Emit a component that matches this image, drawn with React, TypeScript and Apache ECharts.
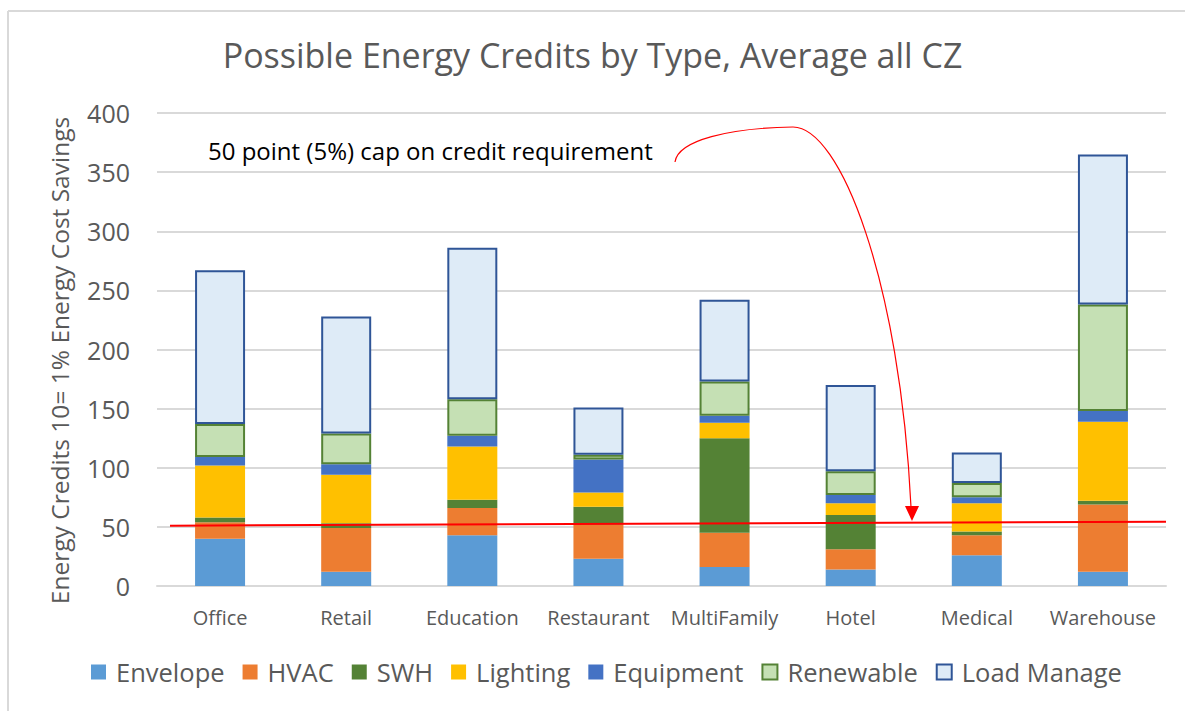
import React, { useEffect, useRef } from "react";
import * as echarts from "echarts";

const categories = ["Office", "Retail", "Education", "Restaurant", "MultiFamily", "Hotel", "Medical", "Warehouse"];
const envelope = [40, 12, 43, 23, 16, 14, 26, 12];
const hvac = [14, 37, 23, 29, 29, 17, 17, 57];
const swh = [4, 4, 7, 15, 80, 29, 3, 3];
const lighting = [44, 41, 45, 12, 13, 10, 24, 67];
const equipment = [7, 9, 9, 28, 6, 7, 5, 9];
const renewable = [28, 26, 31, 4, 29, 20, 12, 90];
const loadManage = [130, 99, 128, 40, 69, 73, 26, 127];
const yTicks = { min: 0, max: 400, interval: 50 };

const FONT = "Open Sans";
const GRAY = "#595959";

export default function App() {
  const ref = useRef<HTMLDivElement>(null);
  useEffect(() => {
    if (!ref.current) return;
    const chart = echarts.init(ref.current, null, { renderer: "svg" });
    const mk = (name: string, data: number[], style: any) => ({
      name,
      type: "bar",
      stack: "total",
      barWidth: 50,
      data,
      itemStyle: style,
      emphasis: { disabled: true },
    });
    chart.setOption({
      animation: false,
      backgroundColor: "#ffffff",
      textStyle: { fontFamily: FONT },
      title: {
        text: "Possible Energy Credits by Type, Average all CZ",
        left: "center",
        top: 33,
        textStyle: { fontFamily: FONT, fontSize: 34, fontWeight: "normal", color: GRAY },
      },
      legend: {
        left: 86,
        top: 654,
        itemWidth: 15,
        itemHeight: 15,
        itemGap: 18,
        icon: "rect",
        textStyle: { fontFamily: FONT, fontSize: 25.5, color: GRAY, padding: [0, 0, 0, 5] },
        data: ["Envelope", "HVAC", "SWH", "Lighting", "Equipment", "Renewable", "Load Manage"],
      },
      grid: { left: 157, right: 19, top: 113, bottom: 125 },
      xAxis: {
        type: "category",
        data: categories,
        axisLine: { lineStyle: { color: "#D9D9D9", width: 2 } },
        axisTick: { show: false },
        axisLabel: { fontFamily: FONT, fontSize: 20, color: GRAY, margin: 21, interval: 0 },
      },
      yAxis: {
        type: "value",
        min: yTicks.min,
        max: yTicks.max,
        interval: yTicks.interval,
        name: "Energy Credits 10= 1% Energy Cost Savings",
        nameLocation: "middle",
        nameGap: 85,
        nameTextStyle: { fontFamily: FONT, fontSize: 24.5, color: GRAY, padding: [0, 22, 0, 0] },
        axisLine: { show: false },
        axisTick: { show: false },
        axisLabel: { fontFamily: FONT, fontSize: 25, color: GRAY, margin: 27 },
        splitLine: { lineStyle: { color: "#D9D9D9", width: 2 } },
      },
      series: [
        mk("Envelope", envelope, { color: "#5B9BD5" }),
        mk("HVAC", hvac, { color: "#ED7D31" }),
        mk("SWH", swh, { color: "#548235" }),
        mk("Lighting", lighting, { color: "#FFC000" }),
        mk("Equipment", equipment, { color: "#4472C4" }),
        mk("Renewable", renewable, { color: "#C5E0B4", borderColor: "#548235", borderWidth: 2 }),
        mk("Load Manage", loadManage, { color: "#DEEBF7", borderColor: "#2F5597", borderWidth: 2 }),
      ],
      graphic: [
        { type: "line", shape: { x1: 8, y1: 11, x2: 1185, y2: 11 }, style: { stroke: "#D9D9D9", lineWidth: 2 }, silent: true },
        { type: "line", shape: { x1: 8, y1: 11, x2: 8, y2: 711 }, style: { stroke: "#D9D9D9", lineWidth: 2 }, silent: true },
        {
          type: "text",
          left: 208,
          top: 138,
          style: { text: "50 point (5%) cap on credit requirement", fontFamily: FONT, fontSize: 24, fill: "#000000" },
          z: 10,
        },
        { type: "line", shape: { x1: 170, y1: 525.7, x2: 1166, y2: 521.7 }, style: { stroke: "#FF0000", lineWidth: 2 }, z: 20, silent: true },
        {
          type: "bezierCurve",
          shape: { x1: 675, y1: 162, cpx1: 678, cpy1: 140, cpx2: 730, cpy2: 128, x2: 793, y2: 127 },
          style: { stroke: "#FF0000", lineWidth: 1.2, fill: "none" },
          z: 20,
          silent: true,
        },
        {
          type: "bezierCurve",
          shape: { x1: 793, y1: 127, cpx1: 840, cpy1: 127, cpx2: 900, cpy2: 280, x2: 911, y2: 507 },
          style: { stroke: "#FF0000", lineWidth: 1.2, fill: "none" },
          z: 20,
          silent: true,
        },
        {
          type: "polygon",
          shape: { points: [[905, 506], [919, 506], [912, 521]] },
          style: { fill: "#FF0000" },
          z: 20,
          silent: true,
        },
      ],
    });
    return () => chart.dispose();
  }, []);
  return <div ref={ref} style={{ position: "fixed", left: 0, top: 0, width: 1185, height: 711 }} />;
}
